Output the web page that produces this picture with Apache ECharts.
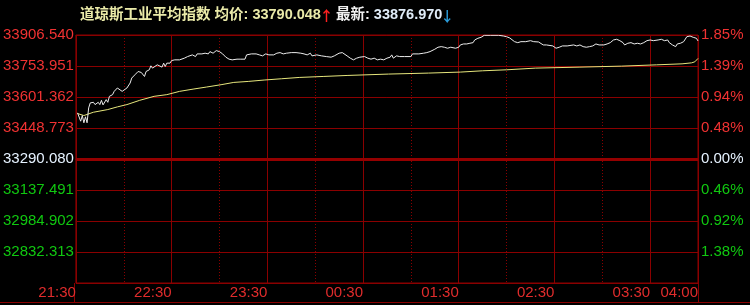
<!DOCTYPE html>
<html><head><meta charset="utf-8">
<script src="https://cdn.jsdelivr.net/npm/echarts@6/dist/echarts.min.js"></script>
<style>html,body{margin:0;padding:0;background:#000;}#c{width:750px;height:305px;}</style>
</head><body><div id="c"></div>
<script>
// ---------- data ----------
const titleName = '道琼斯工业平均指数';
const baseValue = 33290.080;          // previous close (0.00%)
const stepValue = 154.115;            // value per grid row
const leftTickLabels  = ['', '32832.313', '32984.902', '33137.491', '33290.080', '33448.773', '33601.362', '33753.951', '33906.540']; // bottom -> top
const rightTickLabels = ['', '1.38%', '0.92%', '0.46%', '0.00%', '0.48%', '0.94%', '1.39%', '1.85%'];
const timeTickMinutes = [0, 60, 120, 180, 240, 300, 360, 390];
const timeTickLabels  = ['21:30', '22:30', '23:30', '00:30', '01:30', '02:30', '03:30', '04:00'];

// minutes after 21:30
const priceMinutes = [1,3,4,5,6,7,8,9,10,11,12,14,15,16,17,19,20,21,23,24,26,27,29,30,32,34,35,37,39,40,41,43,44,46,47,48,49,51,52,54,55,56,57,59,60,62,65,68,70,73,75,76,79,81,83,84,86,88,90,92,94,96,98,99,101,103,106,107,110,113,115,117,119,121,122,124,126,128,130,132,135,138,141,143,145,147,148,149,151,154,157,160,162,163,165,167,168,170,172,174,176,178,181,183,185,187,189,191,193,195,197,198,199,201,203,206,210,211,215,218,220,222,223,225,227,229,231,233,235,238,240,241,243,245,247,249,250,252,254,256,260,265,268,270,272,275,277,279,282,285,287,290,291,293,295,296,299,301,303,305,308,312,314,316,318,320,322,324,326,328,329,331,333,335,337,339,341,343,344,346,348,350,352,354,356,358,360,362,365,367,369,371,372,374,376,377,379,381,382,383,384,385,387,389,390];
const priceValues = [33519.5,33478.0,33506.2,33470.1,33499.8,33470.1,33544.2,33569.0,33560.6,33571.9,33560.6,33571.9,33560.6,33581.8,33559.1,33585.3,33571.9,33601.6,33610.0,33626.3,33643.1,33634.7,33626.3,33629.7,33643.1,33667.8,33692.5,33708.8,33725.1,33717.2,33720.2,33700.4,33725.1,33733.5,33753.3,33741.9,33746.9,33758.2,33763.2,33746.9,33766.6,33749.8,33766.6,33766.6,33779.5,33783.0,33783.0,33791.4,33799.3,33807.7,33799.3,33812.6,33812.6,33816.1,33812.6,33824.0,33816.1,33828.9,33824.0,33812.6,33796.3,33786.4,33783.0,33774.6,33786.4,33786.4,33786.4,33807.7,33812.6,33812.6,33807.7,33802.8,33812.6,33807.7,33816.1,33807.7,33816.1,33819.0,33812.6,33816.1,33819.0,33819.0,33816.1,33812.6,33807.7,33816.1,33802.8,33802.8,33807.7,33802.8,33799.3,33796.3,33802.8,33812.6,33816.1,33819.0,33812.6,33802.8,33791.4,33783.0,33791.4,33796.3,33799.3,33791.4,33786.4,33791.4,33783.0,33786.4,33783.0,33791.4,33796.3,33807.7,33791.4,33802.8,33799.3,33799.3,33799.3,33812.6,33812.6,33816.1,33819.0,33824.0,33828.9,33835.8,33845.7,33848.7,33845.7,33840.8,33845.7,33840.8,33845.7,33857.1,33862.0,33862.0,33865.5,33868.5,33881.8,33890.2,33895.1,33905.0,33905.0,33905.0,33901.6,33898.1,33891.7,33873.4,33868.5,33873.4,33873.4,33878.4,33873.4,33871.9,33865.5,33857.1,33857.1,33852.2,33852.2,33840.8,33845.7,33852.2,33852.2,33857.1,33852.2,33857.1,33848.7,33845.7,33848.7,33852.2,33862.0,33857.1,33852.2,33857.1,33862.0,33868.5,33881.8,33885.3,33878.4,33868.5,33857.1,33865.5,33868.5,33862.0,33865.5,33862.0,33868.5,33878.4,33881.8,33878.4,33881.8,33885.3,33878.4,33881.8,33868.5,33857.1,33848.7,33862.0,33865.5,33873.4,33881.8,33898.1,33890.2,33901.6,33895.1,33890.2,33876.970];

const avgMinutes = [1,5,11,20,26,32,40,49,57,65,74,82,91,99,108,118,129,140,155,170,196,221,241,255,270,288,316,342,364,380,386,388,390];
const avgValues  = [33516.1,33506.2,33522.5,33535.9,33549.2,33560.6,33581.8,33601.6,33610.0,33626.3,33638.2,33648.0,33659.4,33670.8,33675.7,33682.6,33689.1,33695.5,33700.4,33705.4,33712.3,33717.2,33722.2,33728.6,33733.5,33741.9,33746.9,33751.8,33758.2,33763.2,33768.1,33773.1,33790.048];

// ---------- chart ----------
const toRow = v => (v - baseValue) / stepValue;
const priceData = priceMinutes.map((m, i) => [m, toRow(priceValues[i])]);
const avgData = avgMinutes.map((m, i) => [m, toRow(avgValues[i])]);

const GRID = '#8a0000';
const FONT = '"Liberation Sans", Arial, "Noto Sans CJK SC", sans-serif';
const ARROW_FONT = '"Noto Sans CJK SC", "DejaVu Sans", sans-serif';
const labelRich = {
  r: { color: '#f03232', fontSize: 15, fontFamily: FONT },
  w: { color: '#e6f2ff', fontSize: 15, fontFamily: FONT },
  g: { color: '#10c810', fontSize: 15, fontFamily: FONT }
};
function rowTag(v) {
  const i = Math.round(v) + 4;
  return i > 4 ? 'r' : (i === 4 ? 'w' : 'g');
}

const chart = echarts.init(document.getElementById('c'), null, { renderer: 'canvas' });
chart.setOption({
  backgroundColor: '#000',
  animation: false,
  title: {
    left: 75, top: 3,
    text: '{a|' + titleName + ' 均价: ' + avgValues[avgValues.length - 1].toFixed(3) + '}{r|↑}{w| 最新: }{b|' + priceValues[priceValues.length - 1].toFixed(3) + '}{c|↓}',
    textStyle: {
      rich: {
        a: { color: '#eaeaa8', fontSize: 14.5, fontFamily: FONT },
        r: { color: '#ff2020', fontSize: 14, fontFamily: ARROW_FONT, width: 11, align: 'center' },
        w: { color: '#f0f0f0', fontSize: 14.5, fontFamily: FONT },
        b: { color: '#e0ecf8', fontSize: 14.5, fontFamily: FONT },
        c: { color: '#2a9ad8', fontSize: 14, fontFamily: ARROW_FONT, width: 10, align: 'center' }
      }
    }
  },
  grid: { left: 74, width: 624, top: 35, height: 248, show: true, borderColor: GRID, borderWidth: 1, backgroundColor: 'transparent' },
  xAxis: [
    {
      type: 'value', min: 0, max: 390, interval: 60, position: 'bottom',
      axisLine: { show: true, lineStyle: { color: GRID } },
      axisTick: { show: true, length: 3, lineStyle: { color: GRID } },
      splitLine: { show: true, lineStyle: { color: GRID, width: 1, type: 'solid' } },
      axisLabel: {
        show: true, showMinLabel: true, showMaxLabel: true, align: 'right', margin: 2,
        color: '#e02c2c', fontSize: 15, fontFamily: FONT,
        formatter: v => { const i = timeTickMinutes.indexOf(Math.round(v)); return i >= 0 ? timeTickLabels[i] : ''; }
      }
    },
    {
      type: 'value', min: 0, max: 390, interval: 30, position: 'bottom',
      axisLine: { show: false }, axisTick: { show: false }, axisLabel: { show: false },
      splitLine: { show: true, lineStyle: { color: GRID, width: 1, type: [1, 2] } }
    }
  ],
  yAxis: [
    {
      type: 'value', min: -4, max: 4, interval: 1, position: 'left',
      axisLine: { show: false }, axisTick: { show: false },
      splitLine: { show: true, lineStyle: { color: GRID, width: 1 } },
      axisLabel: {
        margin: 2, showMinLabel: true, showMaxLabel: true,
        formatter: v => { const i = Math.round(v) + 4; return leftTickLabels[i] ? '{' + rowTag(v) + '|' + leftTickLabels[i] + '}' : ''; },
        rich: labelRich
      }
    },
    {
      type: 'value', min: -4, max: 4, interval: 1, position: 'right',
      axisLine: { show: false }, axisTick: { show: false }, splitLine: { show: false },
      axisLabel: {
        margin: 3, showMinLabel: true, showMaxLabel: true,
        formatter: v => { const i = Math.round(v) + 4; return rightTickLabels[i] ? '{' + rowTag(v) + '|' + rightTickLabels[i] + '}' : ''; },
        rich: labelRich
      }
    }
  ],
  graphic: [
    { type: 'line', silent: true, shape: { x1: 74.5, y1: 283, x2: 74.5, y2: 302 }, style: { stroke: GRID, lineWidth: 1 } },
    { type: 'line', silent: true, shape: { x1: 698.5, y1: 283, x2: 698.5, y2: 302 }, style: { stroke: GRID, lineWidth: 1 } },
    { type: 'line', silent: true, shape: { x1: 0, y1: 302.5, x2: 750, y2: 302.5 }, style: { stroke: GRID, lineWidth: 1 } }
  ],
  series: [
    {
      name: 'avg', type: 'line', xAxisIndex: 0, yAxisIndex: 0, data: avgData,
      showSymbol: false, symbol: 'none', lineStyle: { color: '#e6e67c', width: 1 },
      markLine: {
        silent: true, symbol: ['none', 'none'], label: { show: false },
        lineStyle: { color: '#940000', width: 3, type: 'solid' },
        data: [{ yAxis: 0 }]
      }
    },
    {
      name: 'price', type: 'line', xAxisIndex: 0, yAxisIndex: 0, data: priceData,
      showSymbol: false, symbol: 'none', lineStyle: { color: '#ececec', width: 1 }
    }
  ]
});
</script></body></html>
